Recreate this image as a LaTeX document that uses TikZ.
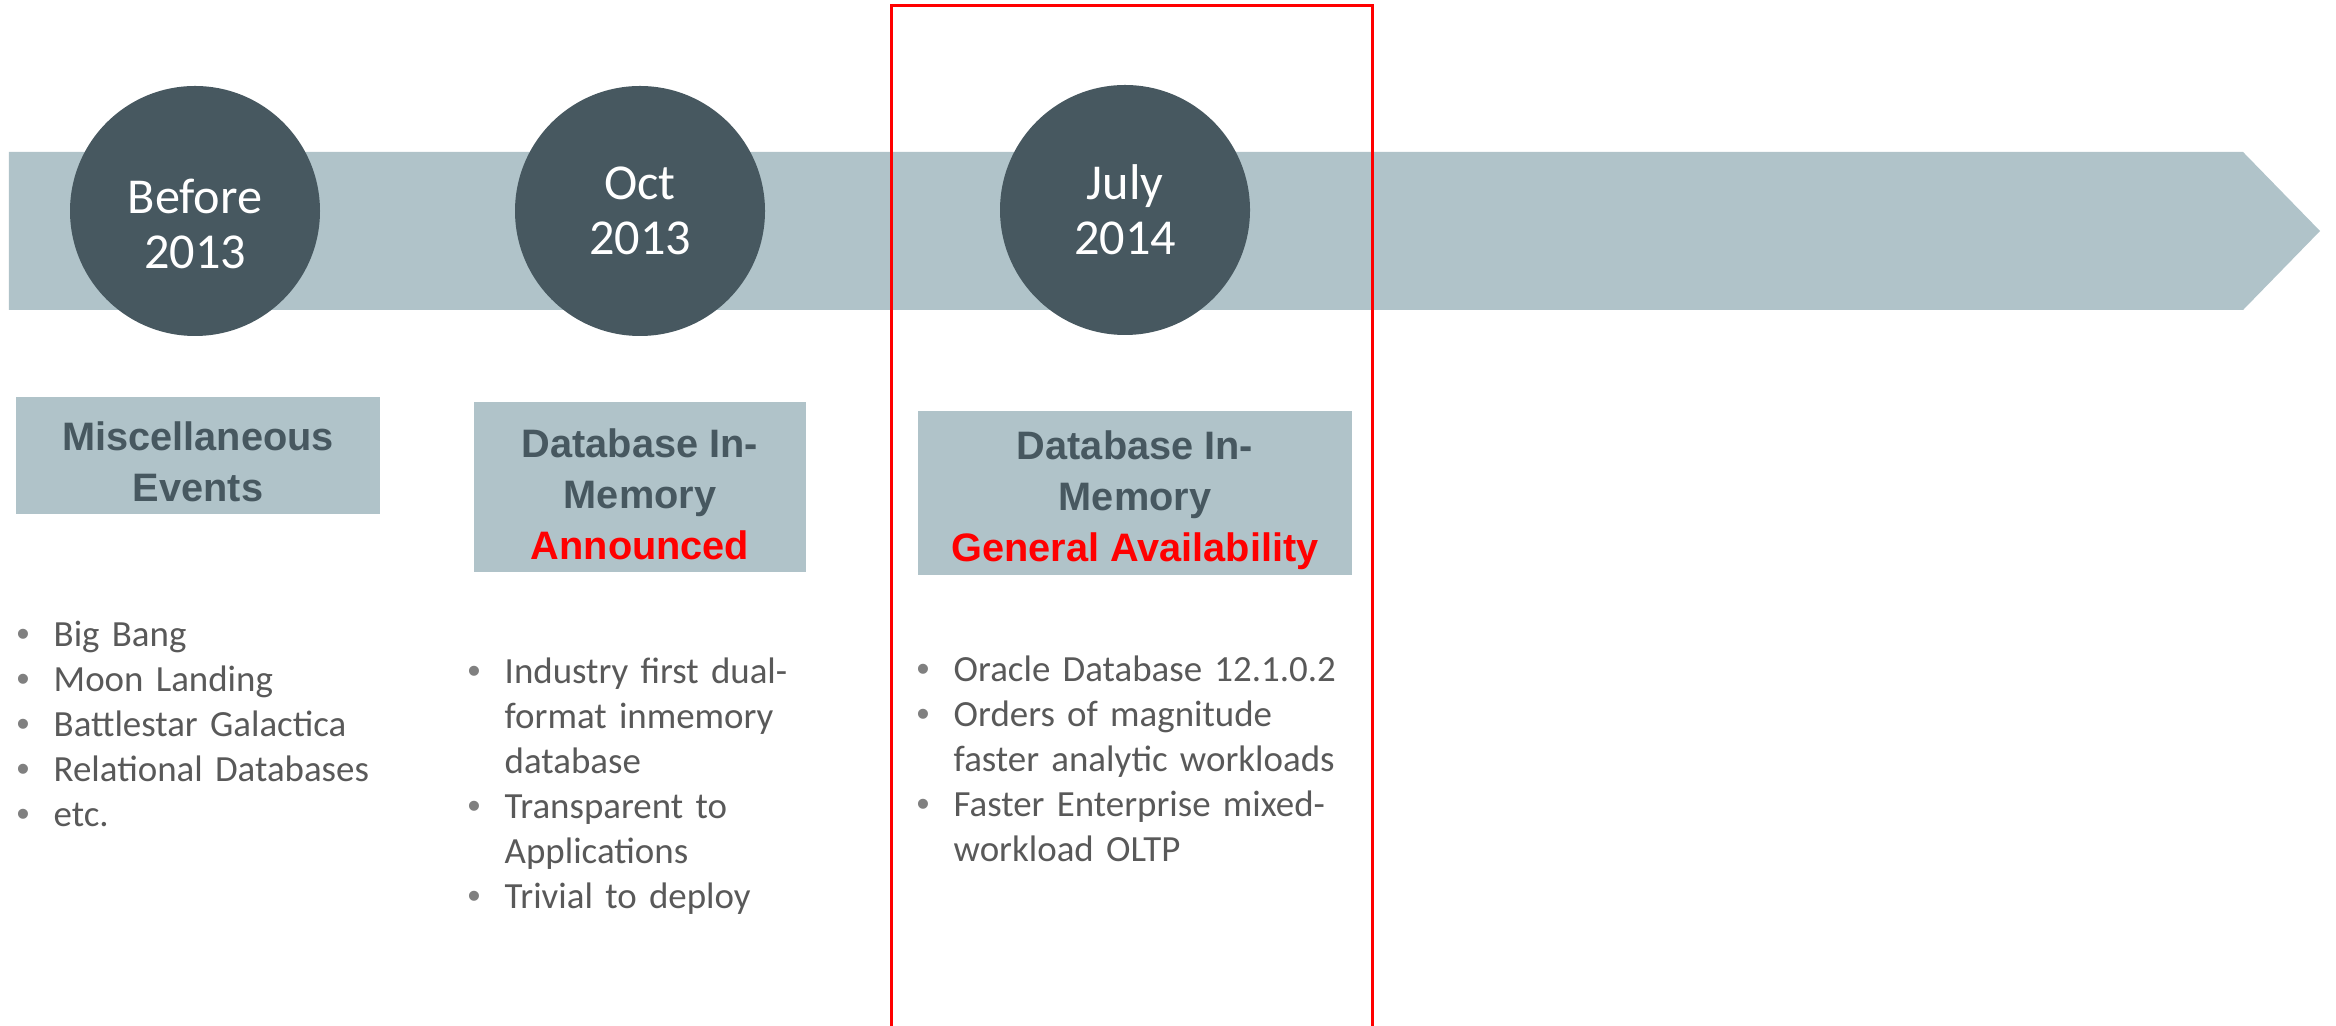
\documentclass[tikz,border=0pt]{standalone}
\usepackage{fontspec}
\setmainfont{Carlito}
\newfontfamily\headfont{Liberation Sans}
\usetikzlibrary{positioning}

\definecolor{bandgray}{RGB}{176,195,201}
\definecolor{slate}{RGB}{71,88,96}
\definecolor{bodygray}{RGB}{89,89,89}
\definecolor{dotgray}{RGB}{128,128,128}
\definecolor{hired}{RGB}{255,0,0}

% one bullet point, wrapped lines hang under the text
\newcommand{\litem}[1]{\par\noindent\hangindent=0.37cm\hangafter=1%
  \makebox[0.37cm][l]{\textcolor{dotgray}{\headfont\textbullet}}#1\par}

\tikzset{
  band/.style={
    fill=bandgray,
    draw=none
  },
  datecircle/.style={
    circle,
    fill=slate,
    text=white,
    minimum size=2.5cm,
    inner sep=0pt,
    align=center,
    font=\fontsize{14.3pt}{15.6pt}\selectfont
  },
  titlebox/.style={
    rectangle,
    fill=bandgray,
    text=slate,
    inner sep=0pt,
    align=center,
    font=\headfont\bfseries\fontsize{11.3pt}{14.5pt}\selectfont
  },
  bulletlist/.style={
    anchor=north west,
    inner sep=0pt,
    text width=5cm,
    align=left,
    text=bodygray,
    font=\fontsize{10.5pt}{12.8pt}\selectfont
  },
  hilite/.style={
    draw=hired,
    line width=0.03cm
  }
}

\begin{document}
\begin{tikzpicture}
  \fill[white] (0,0) rectangle (23.36,-10.26);
  \useasboundingbox (0,0) rectangle (23.36,-10.26);

  % timeline arrow
  \fill[band] (0.09,-1.52) -- (22.43,-1.52) -- (23.20,-2.31) -- (22.43,-3.10) -- (0.09,-3.10) -- cycle;

  % milestones
  \node[datecircle] (before) at (1.95,-2.11) {\rule{0pt}{0.6cm}Before\\2013};
  \node[datecircle] (oct) at (6.40,-2.11) {Oct\\2013};
  \node[datecircle] (july) at (11.25,-2.10) {July\\2014};

  \node[titlebox, minimum width=3.64cm, minimum height=1.17cm] (misc) at (1.98,-4.555)
    {\rule{0pt}{0.41cm}Miscellaneous\\Events};
  \node[titlebox, minimum width=3.32cm, minimum height=1.70cm] (announce) at (6.40,-4.87)
    {\rule{0pt}{0.43cm}Database In-\\Memory\\\textcolor{hired}{Announced}};
  \node[titlebox, minimum width=4.34cm, minimum height=1.64cm] (ga) at (11.35,-4.93)
    {\rule{0pt}{0.43cm}Database In-\\Memory\\\textcolor{hired}{General Availability}};

  \node[bulletlist] (misclist) at (0.16,-6.01) {%
    \litem{Big Bang}
    \litem{Moon Landing}
    \litem{Battlestar Galactica}
    \litem{Relational Databases}
    \litem{etc.}};
  \node[bulletlist] (announcelist) at (4.67,-6.38) {%
    \litem{Industry first dual-\newline format inmemory\newline database}
    \litem{Transparent to\newline Applications}
    \litem{Trivial to deploy}};
  \node[bulletlist] (galist) at (9.16,-6.36) {%
    \litem{Oracle Database 12.1.0.2}
    \litem{Orders of magnitude\newline faster analytic workloads}
    \litem{Faster Enterprise mixed-\newline workload OLTP}};

  % current release
  \draw[hilite] (8.91,-0.06) rectangle (13.72,-10.5);
\end{tikzpicture}
\end{document}
